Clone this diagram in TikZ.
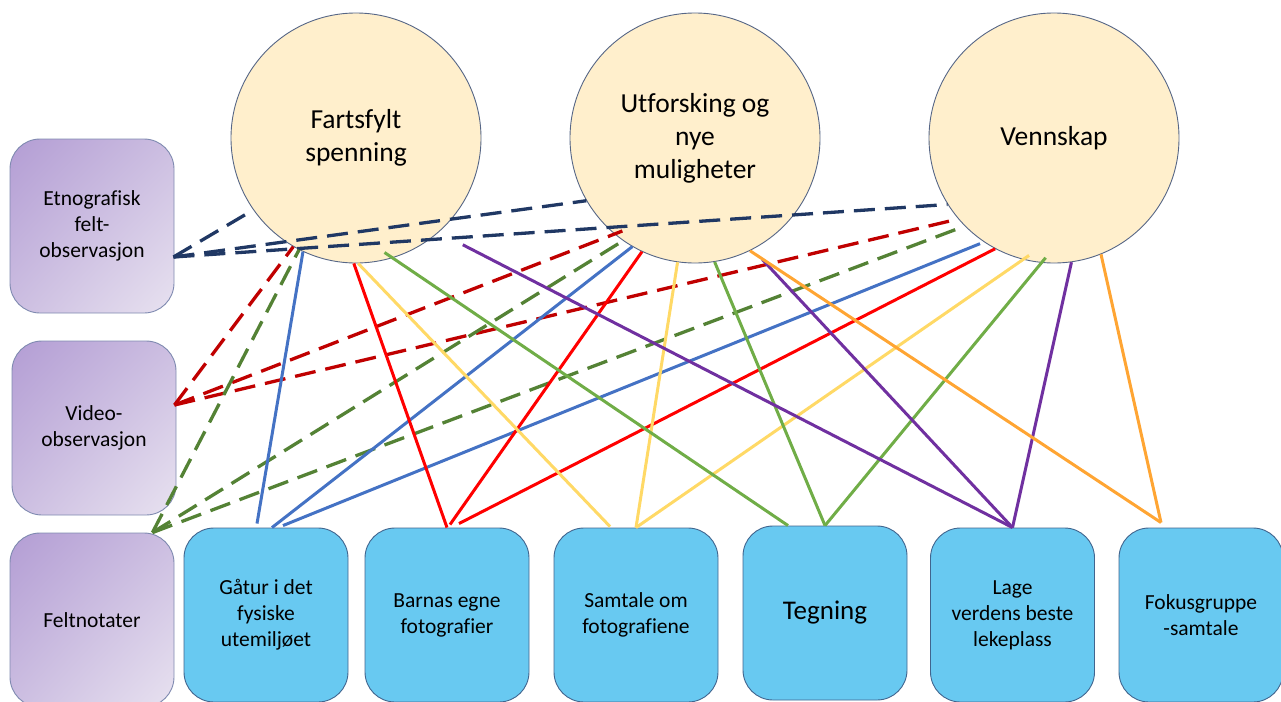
\documentclass[tikz,border=0pt]{standalone}
\usepackage{fontspec}
\setmainfont{Carlito}[Ligatures=NoCommon]
\usetikzlibrary{calc,shadings}
\definecolor{circfill}{HTML}{FFEFCC}
\definecolor{circline}{HTML}{566686}
\definecolor{boxfill}{HTML}{68C9F1}
\definecolor{boxline}{HTML}{41658E}
\definecolor{purpline}{HTML}{7F8AB0}
\definecolor{pA}{HTML}{B39DD4}
\definecolor{pB}{HTML}{CCBEE1}
\definecolor{pC}{HTML}{E8E2F0}
\definecolor{navyD}{HTML}{203864}
\definecolor{redD}{HTML}{C00000}
\definecolor{greenD}{HTML}{548235}
\definecolor{blueL}{HTML}{4472C4}
\definecolor{redL}{HTML}{FF0000}
\definecolor{yelL}{HTML}{FFD966}
\definecolor{greenL}{HTML}{70AD47}
\definecolor{purpL}{HTML}{7030A0}
\definecolor{orngL}{HTML}{FFA533}
\begin{document}
\begin{tikzpicture}[x=1pt,y=-1pt,
  theme/.style={circle,draw=circline,line width=0.9pt,fill=circfill,minimum size=250pt,inner sep=0pt,align=center,font=\fontsize{27.5pt}{33pt}\selectfont},
  method/.style={rectangle,rounded corners=30pt,draw=boxline,line width=0.9pt,minimum width=164pt,minimum height=174pt,inner sep=0pt,align=center,font=\fontsize{21.5pt}{26pt}\selectfont},
  bluebox/.style={method,fill=boxfill},
  purplebox/.style={method,draw=purpline,upper left=pA,upper right=pB,lower left=pB,lower right=pC},
  link/.style={line width=3pt},
  dlink/.style={line width=3.3pt,dash pattern=on 21pt off 10pt},
]
\useasboundingbox (0,0) rectangle (1281,701);

% themes
\node[theme] (c1) at (356,138) {Fartsfylt\\spenning};
\node[theme] (c2) at (695,138) {Utforsking og\\nye\\muligheter};
\node[theme] (c3) at (1054,138) {Vennskap};

% methods (left)
\node[purplebox] (etno) at (92,226) {Etnografisk\\felt-\\observasjon};
\node[purplebox] (video) at (94,428) {Video-\\observasjon};
\node[purplebox] (felt) at (92,620) {Feltnotater};

% activities (bottom)
\node[bluebox] (gatur) at (266,615) {Gåtur i det\\fysiske\\utemiljøet};
\node[bluebox] (barnas) at (447,615) {Barnas egne\\fotografier};
\node[bluebox] (samtale) at (636,615) {Samtale om\\fotografiene};
\node[bluebox,font=\fontsize{27pt}{32pt}\selectfont] (tegning) at (825,613) {Tegning};
\node[bluebox] (lage) at (1012.5,615) {Lage\\verdens beste\\lekeplass};
\node[bluebox] (fokus) at (1201,615) {Fokusgruppe\\-samtale};

% ports
\coordinate (eP) at ([xshift=-1pt,yshift=-31pt]etno.east);
\coordinate (vP) at ([xshift=-2pt,yshift=23pt]video.east);
\coordinate (fP) at ([xshift=-22pt]felt.north east);

% dashed connectors
\draw[dlink,navyD] (eP) -- (c1.215);
\draw[dlink,navyD] (eP) -- (c2.210);
\draw[dlink,navyD] (eP) -- (c3.212);

\draw[dlink,redD] (vP) -- (c1.240);
\draw[dlink,redD] (vP) -- ($(c2)+(232:118pt)$);
\draw[dlink,redD] (vP) -- ($(c3)+(219:131pt)$);

\draw[dlink,greenD] (fP) -- (c1.243);
\draw[dlink,greenD] (fP) -- (c2.235);
\draw[dlink,greenD] (fP) -- ($(c3)+(223:134pt)$);

% solid connectors
\draw[link,blueL] (c1.245) -- ([xshift=-9pt,yshift=4pt]gatur.north);
\draw[link,blueL] (c2.240) -- ([xshift=6pt]gatur.north);
\draw[link,blueL] ($(c3)+(235:129pt)$) -- ([xshift=17pt,yshift=2pt]gatur.north);

\draw[link,redL] (c1.269) -- (barnas.north);
\draw[link,redL] (c2.245) -- ([xshift=3pt,yshift=3pt]barnas.north);
\draw[link,redL] (c3.242) -- ([xshift=12pt,yshift=4pt]barnas.north);

\draw[link,yelL] (c1.271) -- ([xshift=-26pt,yshift=1pt]samtale.north);
\draw[link,yelL] (c2.262) -- (samtale.north);
\draw[link,yelL] ($(c3)+(258:120pt)$) -- (samtale.north);

\draw[link,greenL] ($(c1)+(284:118pt)$) -- ([xshift=-37pt]tegning.north);
\draw[link,greenL] (c2.279) -- (tegning.north);
\draw[link,greenL] ($(c3)+(266:120pt)$) -- (tegning.north);

\draw[link,purpL] ($(c1)+(315:151pt)$) -- (lage.north);
\draw[link,purpL] ($(c2)+(299:139pt)$) -- (lage.north);
\draw[link,purpL] (c3.278) -- (lage.north);

\draw[link,orngL] (c2.296) -- ([xshift=-40pt,yshift=5pt]fokus.north);
\draw[link,orngL] (c3.292) -- ([xshift=-40pt,yshift=5pt]fokus.north);
\end{tikzpicture}
\end{document}
